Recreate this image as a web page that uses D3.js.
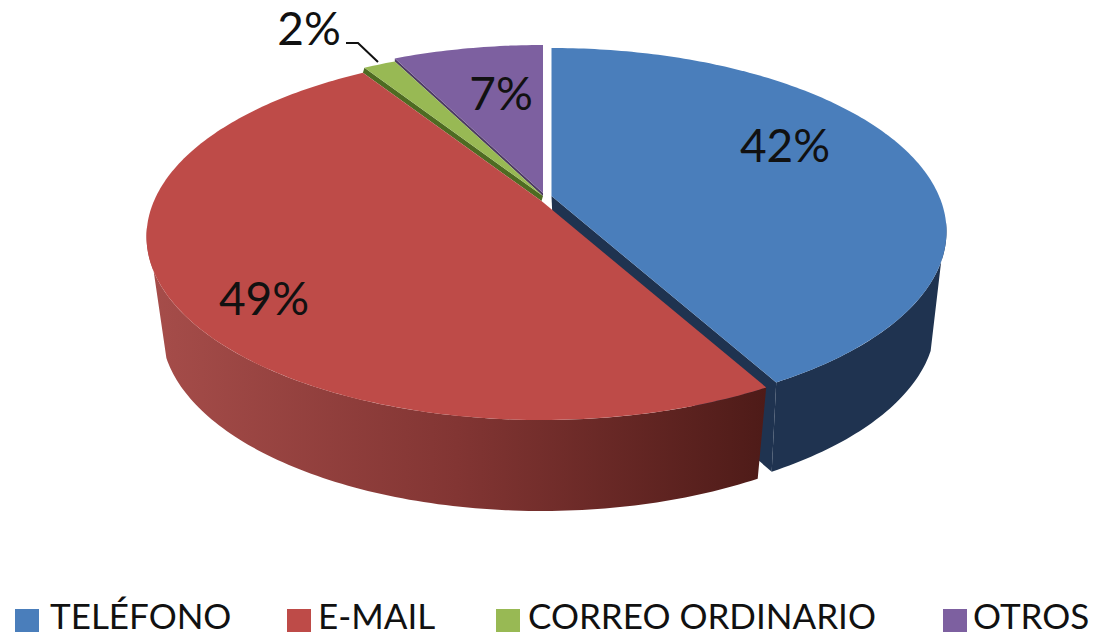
<!DOCTYPE html>
<html>
<head>
<meta charset="utf-8">
<script src="https://cdn.jsdelivr.net/npm/d3@7"></script>
<style>
  html, body { margin: 0; padding: 0; background: #fff; }
  text { font-family: Lato, "Open Sans", sans-serif; fill: #111; }
</style>
</head>
<body>
<div id="vis"></div>
<script>
// Datos
const categorias = ["TELÉFONO", "E-MAIL", "CORREO ORDINARIO", "OTROS"];
const valores = [42, 49, 1.6, 7.4];
const etiquetas = ["42%", "49%", "2%", "7%"];

const colores = ["#4a7ebb", "#be4b48", "#98b954", "#7d60a0"];
const coloresLado = ["#1f3350", "url(#ladoRojo)", "#4e6b22", "#4d3b63"];

const WIDTH = 1094;
const HEIGHT = 637;
const SVG = d3.select("#vis").append("svg")
  .attr("width", WIDTH)
  .attr("height", HEIGHT)
  .style("display", "block");

// Elipse de arriba y elipse de abajo del disco
const TAPA = { cx: 541.5, cy: 236.5, rx: 395, ry: 183.5 };
const BASE = { cx: 541.5, cy: 329, rx: 380, ry: 182 };
const PERSP = -0.193; // el centro del disco se ve mas arriba que el de la elipse

// Desplazamiento de cada trozo (porcion separada)
const desplazamientos = [[10, -5], [0, 0], [1.5, -5], [1.5, -8]];
const despBaseAzul = [14, -7];

const porciones = d3.pie().sort(null).value(d => d)(valores);
const rad = d3.scaleLinear().domain([0, 360]).range([0, 2 * Math.PI]);

// Punto del disco: angulo y radio -> pixeles, con la perspectiva
function punto(elipse, angulo, radio, d) {
  const u = Math.sin(angulo) * radio;
  const v = -Math.cos(angulo) * radio;
  const den = 1 + PERSP * v;
  const x = d3.scaleLinear().domain([-1, 1]).range([elipse.cx - elipse.rx, elipse.cx + elipse.rx]);
  const y = d3.scaleLinear().domain([-1, 1]).range([elipse.cy - elipse.ry, elipse.cy + elipse.ry]);
  return [x((u * Math.sqrt(1 - PERSP * PERSP)) / den) + d[0], y((v + PERSP) / den) + d[1]];
}

function arco(elipse, a0, a1, d) {
  const n = Math.max(2, Math.ceil(Math.abs(a1 - a0) * 60));
  return d3.range(n + 1).map(i => punto(elipse, a0 + ((a1 - a0) * i) / n, 1, d));
}

const linea = d3.line();

const defs = SVG.append("defs");
const grad = defs.append("linearGradient")
  .attr("id", "ladoRojo")
  .attr("gradientUnits", "userSpaceOnUse")
  .attr("x1", 150).attr("x2", 765).attr("y1", 0).attr("y2", 0);
grad.append("stop").attr("offset", "0").attr("stop-color", "#a64d4a");
grad.append("stop").attr("offset", "0.5").attr("stop-color", "#823533");
grad.append("stop").attr("offset", "1").attr("stop-color", "#4e1b18");

// Lados: primero el azul, que queda detras del rojo
const lados = SVG.append("g").attr("id", "lados");

// Cara interior y borde del trozo azul
const azul = porciones[0];
const dAzul = desplazamientos[0];
lados.append("path")
  .attr("d", linea([
    punto(TAPA, 0, 0, dAzul),
    punto(TAPA, azul.endAngle, 1, dAzul),
    punto(BASE, azul.endAngle, 1, despBaseAzul),
    punto(BASE, 0, 0, despBaseAzul)
  ]) + "Z")
  .attr("fill", coloresLado[0]);
lados.append("path")
  .attr("d", linea(arco(TAPA, rad(98), azul.endAngle, dAzul)
    .concat(arco(BASE, azul.endAngle, rad(110), despBaseAzul))) + "Z")
  .attr("fill", coloresLado[0]);

// Borde del trozo rojo
const rojo = porciones[1];
lados.append("path")
  .attr("d", linea(arco(TAPA, rojo.startAngle, rad(262), desplazamientos[1])
    .concat(arco(BASE, rad(250), rojo.startAngle, desplazamientos[1]))) + "Z")
  .attr("fill", coloresLado[1]);

// Tiras oscuras: bajo el trozo verde y entre el verde y el morado
const verde = porciones[2];
const morado = porciones[3];
const dRojo = desplazamientos[1];
const dVerde = desplazamientos[2];
const dMorado = desplazamientos[3];
SVG.append("path")
  .attr("d", linea([
    punto(TAPA, 0, 0, dVerde),
    punto(TAPA, verde.startAngle, 1, dVerde),
    punto(TAPA, verde.startAngle, 1, dRojo),
    punto(TAPA, 0, 0, dRojo)
  ]) + "Z")
  .attr("fill", coloresLado[2]);
SVG.append("path")
  .attr("d", linea([
    punto(TAPA, 0, 0, dMorado),
    punto(TAPA, morado.startAngle, 1, dMorado),
    punto(TAPA, morado.startAngle, 1, dVerde),
    punto(TAPA, 0, 0, dVerde)
  ]) + "Z")
  .attr("fill", coloresLado[3]);

// Caras superiores
const orden = [3, 2, 0, 1];
SVG.append("g").attr("id", "tapas")
  .selectAll("path")
  .data(orden)
  .join("path")
  .attr("d", i => {
    const p = porciones[i];
    const d = desplazamientos[i];
    return linea([punto(TAPA, 0, 0, d)].concat(arco(TAPA, p.startAngle, p.endAngle, d))) + "Z";
  })
  .attr("fill", i => colores[i]);

// Etiquetas de porcentaje
const posEtiquetas = [[785, 162], [264, 315], [309, 45], [501, 110]];
SVG.append("g").attr("id", "etiquetas")
  .selectAll("text")
  .data(etiquetas)
  .join("text")
  .attr("x", (_, i) => posEtiquetas[i][0])
  .attr("y", (_, i) => posEtiquetas[i][1])
  .attr("text-anchor", "middle")
  .attr("font-size", 46)
  .text(d => d);

// Linea guia del 2%
SVG.append("path")
  .attr("d", linea([[346, 43], [358, 43], [378, 62]]))
  .attr("fill", "none")
  .attr("stroke", "#111")
  .attr("stroke-width", 2);

// Leyenda
const posCuadros = [15, 287, 496, 943];
const posTextos = [50, 318, 528, 973];
const leyenda = SVG.append("g").attr("id", "leyenda")
  .selectAll("g")
  .data(categorias)
  .join("g");
leyenda.append("rect")
  .attr("x", (_, i) => posCuadros[i])
  .attr("y", 609)
  .attr("width", 24)
  .attr("height", 23)
  .attr("fill", (_, i) => colores[i]);
leyenda.append("text")
  .attr("x", (_, i) => posTextos[i])
  .attr("y", 629)
  .attr("font-size", 35)
  .text(d => d);
</script>
</body>
</html>
